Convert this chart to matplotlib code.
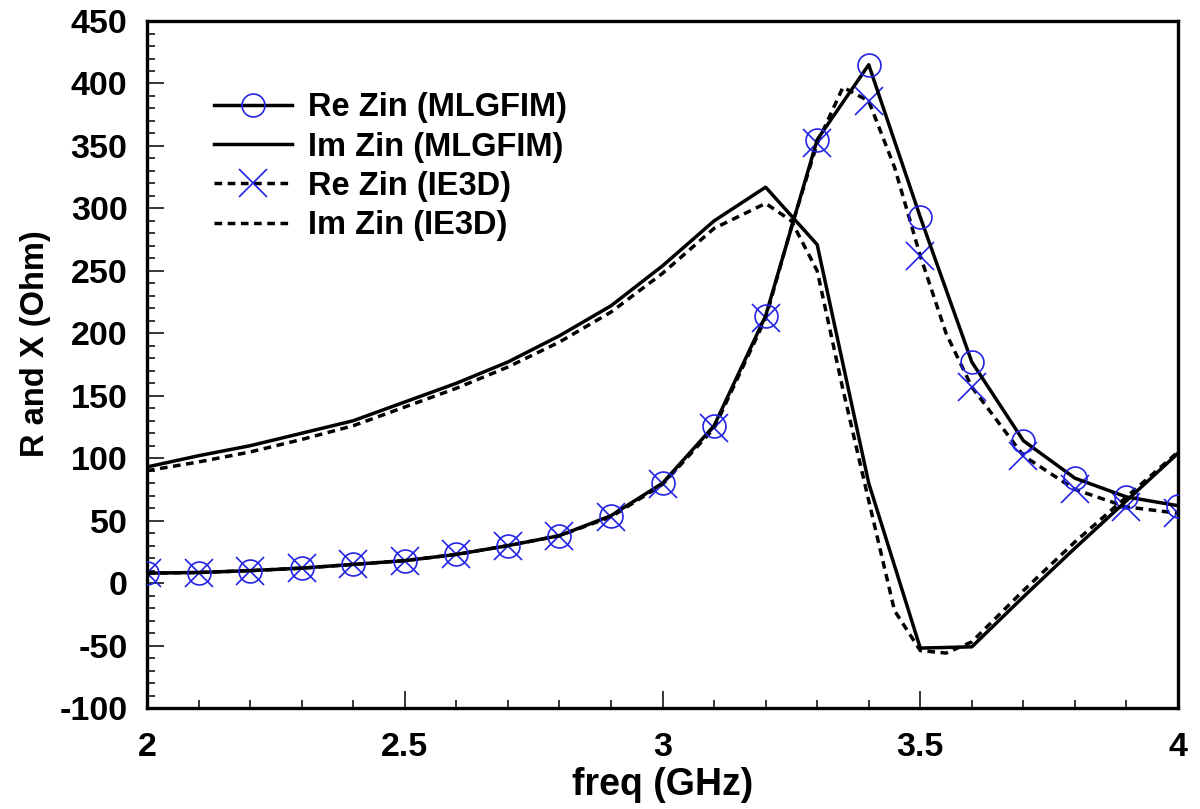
import matplotlib
matplotlib.use("Agg")
import matplotlib.pyplot as plt
from matplotlib.ticker import MultipleLocator, FixedLocator

# MLGFIM results, sampled every 0.1 GHz
freq_mlgfim = [2.0, 2.1, 2.2, 2.3, 2.4, 2.5, 2.6, 2.7, 2.8, 2.9, 3.0,
               3.1, 3.2, 3.3, 3.4, 3.5, 3.6, 3.7, 3.8, 3.9, 4.0]
re_mlgfim = [8, 8.5, 10, 12, 15, 18, 23, 30, 38, 54, 80,
             126, 214, 355, 415, 293, 177, 114, 84, 69, 62]
im_mlgfim = [93, 102, 110, 120, 130, 145, 160, 177, 198, 222, 254,
             290, 317, 271, 80, -52, -51, -11, 28, 66, 104]

# IE3D results, finer sampling around the resonance
freq_ie3d = [2.0, 2.1, 2.2, 2.3, 2.4, 2.5, 2.6, 2.7, 2.8, 2.9, 3.0,
             3.1, 3.2, 3.25, 3.3, 3.35, 3.4, 3.45, 3.5, 3.55, 3.6,
             3.7, 3.8, 3.9, 4.0]
re_ie3d = [8, 8.5, 10, 12, 15, 18, 23, 30, 38, 53, 79,
           124, 212, 285, 352, 397, 386, 333, 262, 200, 157,
           102, 75, 61, 56]
im_ie3d = [90, 97, 105, 115, 126, 141, 156, 173, 193, 217, 248,
           284, 304, 290, 250, 155, 66, -22, -54, -56, -47,
           -6, 33, 69, 105]

labels = ["Re Zin (MLGFIM)", "Im Zin (MLGFIM)", "Re Zin (IE3D)", "Im Zin (IE3D)"]

plt.rcParams["font.family"] = ["Liberation Sans", "DejaVu Sans"]
plt.rcParams["font.weight"] = "bold"
plt.rcParams["axes.unicode_minus"] = False

blue = "#2323e6"
lw = 2.5
dash = (2.2, 1.6)

fig = plt.figure(figsize=(12, 8.09), dpi=100)
ax = fig.add_axes([0.1225, 0.1248, 0.8592, 0.8492])

# markers only on the 0.1 GHz grid of the IE3D sweep
mark_idx = [i for i, f in enumerate(freq_ie3d) if abs(round(f * 10) - f * 10) < 1e-6]

ax.plot(freq_mlgfim, re_mlgfim, color="black", lw=lw, marker="o", ms=16.5,
        mfc="none", mec=blue, mew=1.2, label=labels[0], zorder=3)
ax.plot(freq_mlgfim, im_mlgfim, color="black", lw=lw, label=labels[1], zorder=3)
ax.plot(freq_ie3d, re_ie3d, color="black", lw=lw, dashes=dash, marker="x", ms=20,
        mec=blue, mew=1.2, markevery=mark_idx, label=labels[2], zorder=2)
ax.plot(freq_ie3d, im_ie3d, color="black", lw=lw, dashes=dash, label=labels[3], zorder=2)

ax.set_xlim(2, 4)
ax.set_ylim(-100, 450)
ax.xaxis.set_major_locator(FixedLocator([2, 2.5, 3, 3.5, 4]))
ax.set_xticklabels(["2", "2.5", "3", "3.5", "4"])
ax.xaxis.set_minor_locator(MultipleLocator(0.1))
ax.yaxis.set_major_locator(MultipleLocator(50))
ax.yaxis.set_minor_locator(MultipleLocator(10))

ax.tick_params(which="both", direction="in", top=False, right=False, width=1.1)
ax.tick_params(which="major", length=12, labelsize=24.5)
ax.tick_params(axis="x", which="major", pad=17)
ax.tick_params(axis="y", which="major", pad=14)
ax.tick_params(which="minor", length=6)
for s in ax.spines.values():
    s.set_linewidth(2.4)

ax.set_xlabel("freq (GHz)", fontsize=27, fontweight="bold", labelpad=3)
ax.set_ylabel("R and X (Ohm)", fontsize=23.5, fontweight="bold")
ax.yaxis.set_label_coords(-0.093, 0.531)

leg = ax.legend(loc="upper left", bbox_to_anchor=(0.052, 0.915), frameon=False,
                fontsize=23.5, handlelength=2.4, handletextpad=0.5,
                labelspacing=0.25, numpoints=1, borderaxespad=0)

fig.savefig("out.png", dpi=100)
